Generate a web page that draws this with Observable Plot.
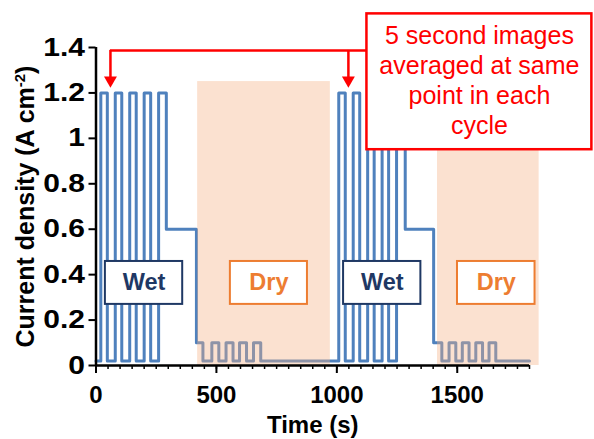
<!DOCTYPE html>
<html><head><meta charset="utf-8">
<script src="https://cdn.jsdelivr.net/npm/d3@7"></script>
<script src="https://cdn.jsdelivr.net/npm/@observablehq/plot@0.6"></script>
<style>
body{margin:0;background:#fff;}
#chart svg{font-family:"Liberation Sans",Arial,sans-serif;background:#fff;}
</style></head><body><div id="chart"></div>
<script>
// Current density step trace: change points (value holds until next time)
const stepTime = [0, 20, 47, 80, 107, 140, 167, 200, 227, 260, 292, 417, 444, 481, 510, 540, 569, 596, 625, 654, 684,
  1008, 1035, 1068, 1095, 1128, 1155, 1188, 1215, 1248, 1284, 1402, 1436, 1466, 1494, 1521, 1549, 1577, 1605, 1632, 1660, 1800];
const stepCurrent = [0.02, 1.2, 0.02, 1.2, 0.02, 1.2, 0.02, 1.2, 0.02, 1.2, 0.6, 0.1, 0.02, 0.1, 0.02, 0.1, 0.02, 0.1, 0.02, 0.1, 0.02,
  1.2, 0.02, 1.2, 0.02, 1.2, 0.02, 1.2, 0.02, 1.2, 0.6, 0.1, 0.02, 0.1, 0.02, 0.1, 0.02, 0.1, 0.02, 0.1, 0.02, 0.02];

// Dry phases (shaded)
const dryStart = [422, 1418];
const dryEnd = [973, 1840];
const dryTop = [1.25, 1.25];

// Phase labels
const phaseText = ["Wet", "Dry", "Wet", "Dry"];
const phaseStart = [39, 558, 1028, 1501];
const phaseEnd = [360, 878, 1349, 1823];
const phaseLow = [0.269, 0.269, 0.269, 0.269];
const phaseHigh = [0.458, 0.458, 0.458, 0.458];

// Callout
const calloutText = ["5 second images\naveraged at same\npoint in each\ncycle"];
const calloutStart = [1125];
const calloutEnd = [2059];
const calloutLow = [0.95];
const calloutHigh = [1.548];
const arrowTime = [60, 1048];
const arrowTop = [1.387];
const arrowTip = [1.224];

// Axes
const yTicks = [0, 0.2, 0.4, 0.6, 0.8, 1.0, 1.2, 1.4];
const xMajor = [0, 500, 1000, 1500];
const xMinor = d3.range(0, 1801, 50);
const yTitle = "Current density (A cm-2)";
const xTitle = "Time (s)";

const series = stepTime.map((t, i) => ({t, v: stepCurrent[i]}));
const dry = dryStart.map((s, i) => ({s, e: dryEnd[i], top: dryTop[i]}));
const phases = phaseText.map((label, i) => ({label, s: phaseStart[i], e: phaseEnd[i], lo: phaseLow[i], hi: phaseHigh[i]}));
const phaseColor = {Wet: "#1F3864", Dry: "#ED7D31"};
const red = "#FF0000";

const chart = Plot.plot({
  width: 594, height: 439,
  marginLeft: 95.5, marginRight: 65, marginTop: 47, marginBottom: 74,
  x: {domain: [0, 1800], axis: null},
  y: {domain: [0, 1.4], axis: null},
  marks: [
    Plot.line(series, {x: "t", y: "v", curve: "step-after", stroke: "#4F81BD", strokeWidth: 3, strokeLinejoin: "round"}),
    Plot.rect(dry, {x1: "s", x2: "e", y1: 0, y2: "top", fill: "#F4B183", fillOpacity: 0.38}),
    Plot.rect(phases, {x1: "s", x2: "e", y1: "lo", y2: "hi", fill: "white", stroke: d => phaseColor[d.label], strokeWidth: 2}),
    Plot.text(phases, {x: d => (d.s + d.e) / 2, y: d => (d.lo + d.hi) / 2, text: "label", fill: d => phaseColor[d.label], fontSize: 23.5, fontWeight: "bold"}),
    // axes
    Plot.axisY({ticks: yTicks, tickFormat: d => String(+d.toFixed(1)), tickSize: 7, tickPadding: 4, fontSize: 25, fontWeight: "bold", label: null, strokeWidth: 2, color: "black", ariaLabel: "ytick"}),
    Plot.axisX({ticks: xMinor, tickFormat: () => "", tickSize: 4, label: null, strokeWidth: 1.5}),
    Plot.axisX({ticks: xMajor, tickFormat: d => String(d), tickSize: 8, tickPadding: 12, fontSize: 24, fontWeight: "bold", label: null, strokeWidth: 2}),
    Plot.ruleX([0], {y1: 0, y2: 1.4, stroke: "black", strokeWidth: 2.5}),
    Plot.ruleY([0], {x1: 0, x2: 1800, stroke: "black", strokeWidth: 2.5}),
    Plot.text([yTitle], {frameAnchor: "left", textAnchor: "middle", rotate: -90, dx: -70, fontSize: 25, fontWeight: "bold", fill: "black"}),
    Plot.text([xTitle], {frameAnchor: "bottom", dy: 67, fontSize: 24, fontWeight: "bold", fill: "black"}),
    // callout
    Plot.ruleY(arrowTop, {x1: arrowTime[0], x2: calloutStart[0], stroke: red, strokeWidth: 2.5}),
    Plot.ruleX(arrowTime, {y1: arrowTip[0] + 0.04, y2: arrowTop[0], stroke: red, strokeWidth: 2.5}),
    Plot.dot(arrowTime, {x: d => d, y: arrowTip[0] + 0.032, symbol: "triangle", rotate: 180, r: 4.8, fill: red, stroke: null}),
    Plot.rect(calloutStart, {x1: d => d, x2: calloutEnd[0], y1: calloutLow[0], y2: calloutHigh[0], fill: "white", stroke: red, strokeWidth: 2.5}),
    Plot.text(calloutText, {x: (calloutStart[0] + calloutEnd[0]) / 2, y: (calloutLow[0] + calloutHigh[0]) / 2 + 0.01, text: d => d, lineHeight: 1.2, fontSize: 25, fill: red})
  ]
});
document.getElementById("chart").appendChild(chart);

// widen y tick labels horizontally (reference glyphs are stretched)
chart.querySelectorAll('g[aria-label="ytick"] text, g[aria-label="ytick tick label"] text, g[aria-label="y-axis tick label"] text').forEach(t => {
  const tr = t.getAttribute("transform") || "";
  t.setAttribute("transform", tr + " scale(1.2,1)");
});

// superscript in y title
const ns = "http://www.w3.org/2000/svg";
const tEl = [...chart.querySelectorAll("text")].find(e => e.textContent === yTitle);
if (tEl) {
  tEl.textContent = "";
  const a = document.createElementNS(ns, "tspan"); a.textContent = "Current density (A cm";
  const b = document.createElementNS(ns, "tspan"); b.textContent = "-2"; b.setAttribute("dy", "-9"); b.setAttribute("font-size", "15");
  const c = document.createElementNS(ns, "tspan"); c.textContent = ")"; c.setAttribute("dy", "9");
  tEl.append(a, b, c);
}
</script></body></html>
